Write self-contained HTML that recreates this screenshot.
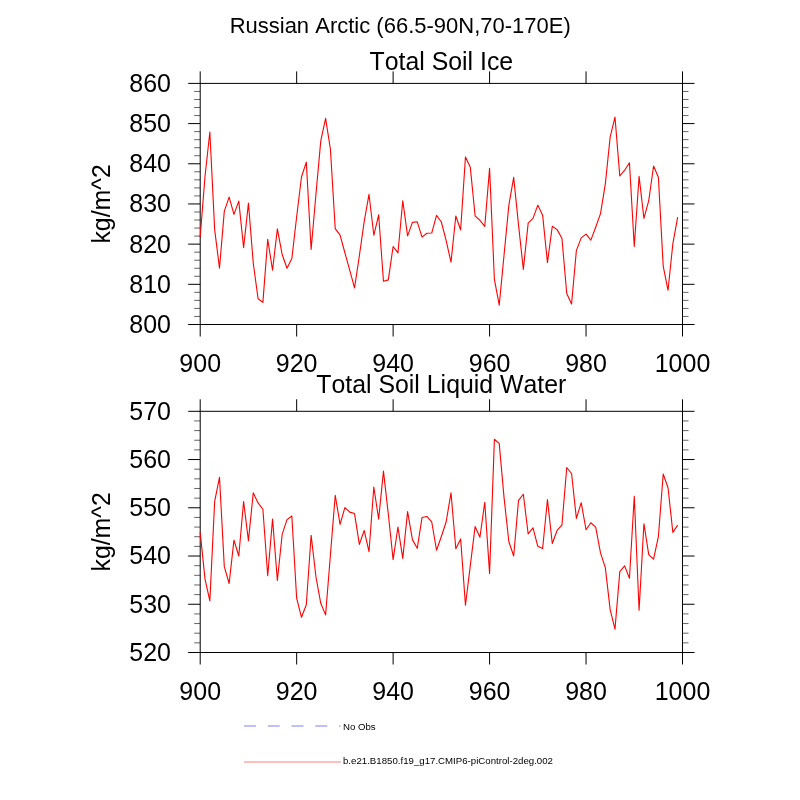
<!DOCTYPE html>
<html><head><meta charset="utf-8"><title>Russian Arctic</title>
<style>html,body{margin:0;padding:0;background:#fff;width:800px;height:800px;overflow:hidden}
svg{display:block;will-change:transform} text{font-family:'Liberation Sans',Arial,Helvetica,sans-serif;font-kerning:none;font-feature-settings:'kern' 0;fill:#000}</style></head>
<body><svg width="800" height="800" viewBox="0 0 800 800">
<rect width="800" height="800" fill="#fff"/>
<text transform="translate(400.20 33.10) scale(1 1.045)" text-anchor="middle" font-size="22.0">Russian Arctic (66.5-90N,70-170E)</text>
<path d="M200.20 71.4V83.4M200.20 324.5V336.5M296.66 71.4V83.4M296.66 324.5V336.5M393.12 71.4V83.4M393.12 324.5V336.5M489.58 71.4V83.4M489.58 324.5V336.5M586.04 71.4V83.4M586.04 324.5V336.5M682.50 71.4V83.4M682.50 324.5V336.5M188.2 324.50H200.2M682.5 324.50H694.5M188.2 284.32H200.2M682.5 284.32H694.5M188.2 244.13H200.2M682.5 244.13H694.5M188.2 203.95H200.2M682.5 203.95H694.5M188.2 163.77H200.2M682.5 163.77H694.5M188.2 123.58H200.2M682.5 123.58H694.5M188.2 83.40H200.2M682.5 83.40H694.5" stroke="#000" stroke-width="1" fill="none"/>
<path d="M194.2 316.46H200.2M682.5 316.46H688.5M194.2 308.43H200.2M682.5 308.43H688.5M194.2 300.39H200.2M682.5 300.39H688.5M194.2 292.35H200.2M682.5 292.35H688.5M194.2 276.28H200.2M682.5 276.28H688.5M194.2 268.24H200.2M682.5 268.24H688.5M194.2 260.21H200.2M682.5 260.21H688.5M194.2 252.17H200.2M682.5 252.17H688.5M194.2 236.10H200.2M682.5 236.10H688.5M194.2 228.06H200.2M682.5 228.06H688.5M194.2 220.02H200.2M682.5 220.02H688.5M194.2 211.99H200.2M682.5 211.99H688.5M194.2 195.91H200.2M682.5 195.91H688.5M194.2 187.88H200.2M682.5 187.88H688.5M194.2 179.84H200.2M682.5 179.84H688.5M194.2 171.80H200.2M682.5 171.80H688.5M194.2 155.73H200.2M682.5 155.73H688.5M194.2 147.69H200.2M682.5 147.69H688.5M194.2 139.66H200.2M682.5 139.66H688.5M194.2 131.62H200.2M682.5 131.62H688.5M194.2 115.55H200.2M682.5 115.55H688.5M194.2 107.51H200.2M682.5 107.51H688.5M194.2 99.47H200.2M682.5 99.47H688.5M194.2 91.44H200.2M682.5 91.44H688.5" stroke="#555" stroke-width="0.9" fill="none"/>
<rect x="200.2" y="83.4" width="482.3" height="241.1" stroke="#000" stroke-width="1" fill="none"/>
<polyline points="200.20,236.87 205.02,176.20 209.85,132.01 214.67,229.64 219.49,268.21 224.31,211.16 229.14,197.10 233.96,214.37 238.78,201.11 243.61,247.72 248.43,203.12 253.25,262.98 258.08,298.74 262.90,302.35 267.72,239.28 272.54,270.21 277.37,228.83 282.19,254.55 287.01,268.21 291.84,258.56 296.66,216.78 301.48,177.01 306.31,162.14 311.13,249.52 315.95,194.28 320.77,140.85 325.60,118.35 330.42,149.29 335.24,228.63 340.07,235.06 344.89,252.74 349.71,270.21 354.54,287.89 359.36,255.75 364.18,221.60 369.00,194.28 373.83,235.26 378.65,214.77 383.47,281.26 388.30,279.86 393.12,246.51 397.94,252.94 402.77,200.71 407.59,235.86 412.41,222.41 417.24,221.80 422.06,237.07 426.88,233.25 431.70,233.05 436.53,215.37 441.35,222.00 446.17,240.69 451.00,262.18 455.82,215.98 460.64,230.04 465.46,156.92 470.29,167.16 475.11,215.78 479.93,220.40 484.76,226.42 489.58,168.37 494.40,279.45 499.23,305.17 504.05,254.95 508.87,205.13 513.69,177.41 518.52,224.82 523.34,269.41 528.16,223.21 532.99,218.39 537.81,205.13 542.63,215.17 547.46,262.58 552.28,226.22 557.10,229.64 561.92,238.27 566.75,293.52 571.57,303.96 576.39,250.33 581.22,237.87 586.04,234.06 590.86,240.08 595.69,227.23 600.51,213.57 605.33,183.84 610.15,137.23 614.98,117.15 619.80,176.00 624.62,170.18 629.45,162.75 634.27,246.51 639.09,176.20 643.92,218.39 648.74,200.71 653.56,165.96 658.38,177.21 663.21,266.20 668.03,290.30 672.85,243.70 677.68,217.18" stroke="#f00" stroke-width="1.1" fill="none" stroke-linejoin="round"/>
<text transform="translate(171.00 332.90) scale(1 1.045)" text-anchor="end" font-size="25">800</text>
<text transform="translate(171.00 292.72) scale(1 1.045)" text-anchor="end" font-size="25">810</text>
<text transform="translate(171.00 252.53) scale(1 1.045)" text-anchor="end" font-size="25">820</text>
<text transform="translate(171.00 212.35) scale(1 1.045)" text-anchor="end" font-size="25">830</text>
<text transform="translate(171.00 172.17) scale(1 1.045)" text-anchor="end" font-size="25">840</text>
<text transform="translate(171.00 131.98) scale(1 1.045)" text-anchor="end" font-size="25">850</text>
<text transform="translate(171.00 91.80) scale(1 1.045)" text-anchor="end" font-size="25">860</text>
<text transform="translate(200.20 372.30) scale(1 1.045)" text-anchor="middle" font-size="25">900</text>
<text transform="translate(296.66 372.30) scale(1 1.045)" text-anchor="middle" font-size="25">920</text>
<text transform="translate(393.12 372.30) scale(1 1.045)" text-anchor="middle" font-size="25">940</text>
<text transform="translate(489.58 372.30) scale(1 1.045)" text-anchor="middle" font-size="25">960</text>
<text transform="translate(586.04 372.30) scale(1 1.045)" text-anchor="middle" font-size="25">980</text>
<text transform="translate(682.50 372.30) scale(1 1.045)" text-anchor="middle" font-size="25">1000</text>
<text transform="translate(110.00 203.95) rotate(-90) scale(1 1.045)" text-anchor="middle" font-size="24.85">kg/m^2</text>
<text transform="translate(441.30 69.60) scale(1 1.045)" text-anchor="middle" font-size="24.87">Total Soil Ice</text>
<path d="M200.20 399.3V411.3M200.20 652.5V664.5M296.66 399.3V411.3M296.66 652.5V664.5M393.12 399.3V411.3M393.12 652.5V664.5M489.58 399.3V411.3M489.58 652.5V664.5M586.04 399.3V411.3M586.04 652.5V664.5M682.50 399.3V411.3M682.50 652.5V664.5M188.2 652.50H200.2M682.5 652.50H694.5M188.2 604.26H200.2M682.5 604.26H694.5M188.2 556.02H200.2M682.5 556.02H694.5M188.2 507.78H200.2M682.5 507.78H694.5M188.2 459.54H200.2M682.5 459.54H694.5M188.2 411.30H200.2M682.5 411.30H694.5" stroke="#000" stroke-width="1" fill="none"/>
<path d="M194.2 642.85H200.2M682.5 642.85H688.5M194.2 633.20H200.2M682.5 633.20H688.5M194.2 623.56H200.2M682.5 623.56H688.5M194.2 613.91H200.2M682.5 613.91H688.5M194.2 594.61H200.2M682.5 594.61H688.5M194.2 584.96H200.2M682.5 584.96H688.5M194.2 575.32H200.2M682.5 575.32H688.5M194.2 565.67H200.2M682.5 565.67H688.5M194.2 546.37H200.2M682.5 546.37H688.5M194.2 536.72H200.2M682.5 536.72H688.5M194.2 527.08H200.2M682.5 527.08H688.5M194.2 517.43H200.2M682.5 517.43H688.5M194.2 498.13H200.2M682.5 498.13H688.5M194.2 488.48H200.2M682.5 488.48H688.5M194.2 478.84H200.2M682.5 478.84H688.5M194.2 469.19H200.2M682.5 469.19H688.5M194.2 449.89H200.2M682.5 449.89H688.5M194.2 440.24H200.2M682.5 440.24H688.5M194.2 430.60H200.2M682.5 430.60H688.5M194.2 420.95H200.2M682.5 420.95H688.5" stroke="#555" stroke-width="0.9" fill="none"/>
<rect x="200.2" y="411.3" width="482.3" height="241.2" stroke="#000" stroke-width="1" fill="none"/>
<polyline points="200.20,532.38 205.02,579.18 209.85,600.88 214.67,501.27 219.49,477.39 224.31,566.63 229.14,583.52 233.96,540.10 238.78,556.02 243.61,501.51 248.43,540.58 253.25,492.83 258.08,502.96 262.90,509.23 267.72,575.80 272.54,519.12 277.37,580.38 282.19,534.31 287.01,519.60 291.84,515.98 296.66,598.23 301.48,617.28 306.31,604.74 311.13,535.28 315.95,576.76 320.77,603.30 325.60,614.87 330.42,555.06 335.24,495.24 340.07,524.42 344.89,507.54 349.71,512.12 354.54,513.57 359.36,544.44 364.18,530.45 369.00,551.68 373.83,487.04 378.65,519.12 383.47,471.12 388.30,514.05 393.12,559.64 397.94,527.08 402.77,558.43 407.59,511.64 412.41,539.62 417.24,548.30 422.06,517.43 426.88,516.46 431.70,521.77 436.53,550.23 441.35,536.48 446.17,521.77 451.00,492.83 455.82,548.78 460.64,538.89 465.46,605.22 470.29,565.67 475.11,526.59 479.93,537.21 484.76,502.23 489.58,573.39 494.40,439.28 499.23,443.62 504.05,497.65 508.87,541.79 513.69,556.02 518.52,500.30 523.34,494.27 528.16,533.83 532.99,527.80 537.81,546.37 542.63,548.54 547.46,499.58 552.28,543.48 557.10,530.45 561.92,525.15 566.75,467.50 571.57,473.53 576.39,518.39 581.22,502.71 586.04,529.73 590.86,522.73 595.69,527.08 600.51,552.88 605.33,567.60 610.15,609.57 614.98,629.10 619.80,571.70 624.62,565.91 629.45,578.21 634.27,496.20 639.09,610.29 643.92,523.70 648.74,554.57 653.56,559.16 658.38,536.72 663.21,474.01 668.03,487.76 672.85,532.38 677.68,525.15" stroke="#f00" stroke-width="1.1" fill="none" stroke-linejoin="round"/>
<text transform="translate(171.00 660.90) scale(1 1.045)" text-anchor="end" font-size="25">520</text>
<text transform="translate(171.00 612.66) scale(1 1.045)" text-anchor="end" font-size="25">530</text>
<text transform="translate(171.00 564.42) scale(1 1.045)" text-anchor="end" font-size="25">540</text>
<text transform="translate(171.00 516.18) scale(1 1.045)" text-anchor="end" font-size="25">550</text>
<text transform="translate(171.00 467.94) scale(1 1.045)" text-anchor="end" font-size="25">560</text>
<text transform="translate(171.00 419.70) scale(1 1.045)" text-anchor="end" font-size="25">570</text>
<text transform="translate(200.20 700.30) scale(1 1.045)" text-anchor="middle" font-size="25">900</text>
<text transform="translate(296.66 700.30) scale(1 1.045)" text-anchor="middle" font-size="25">920</text>
<text transform="translate(393.12 700.30) scale(1 1.045)" text-anchor="middle" font-size="25">940</text>
<text transform="translate(489.58 700.30) scale(1 1.045)" text-anchor="middle" font-size="25">960</text>
<text transform="translate(586.04 700.30) scale(1 1.045)" text-anchor="middle" font-size="25">980</text>
<text transform="translate(682.50 700.30) scale(1 1.045)" text-anchor="middle" font-size="25">1000</text>
<text transform="translate(110.00 531.90) rotate(-90) scale(1 1.045)" text-anchor="middle" font-size="24.85">kg/m^2</text>
<text transform="translate(441.30 392.75) scale(1 1.045)" text-anchor="middle" font-size="24.87">Total Soil Liquid Water</text>
<line x1="244" y1="726" x2="340.5" y2="726" stroke="#aaaaff" stroke-width="1.4" stroke-dasharray="12 11.75"/>
<text transform="translate(343.00 729.60) scale(1 1.0)" font-size="9.63">No Obs</text>
<line x1="244" y1="762" x2="340.9" y2="762" stroke="#ffaaaa" stroke-width="1.4"/>
<text transform="translate(343.00 764.20) scale(1 0.97)" font-size="9.67">b.e21.B1850.f19_g17.CMIP6-piControl-2deg.002</text>
</svg></body></html>
